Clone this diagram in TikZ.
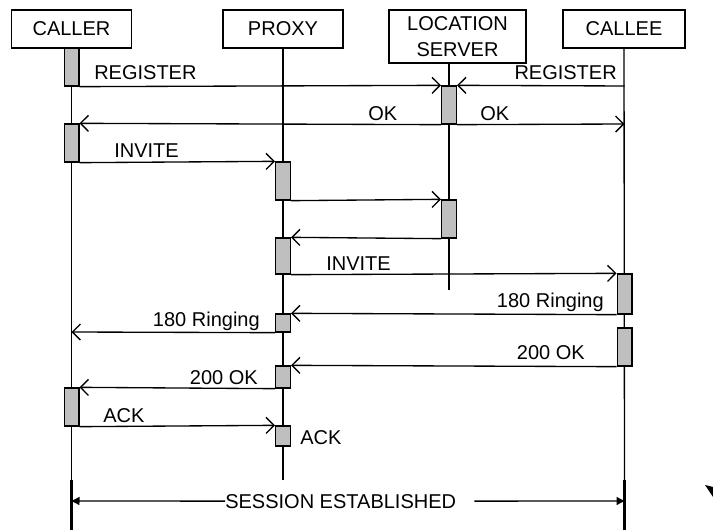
\documentclass[tikz,border=0pt]{standalone}
\usepackage{fontspec}
\setmainfont{Liberation Sans}
\usetikzlibrary{arrows.meta,positioning}
\tikzstyle{actor}=[rectangle, draw=black, line width=1pt, minimum width=90pt,
  minimum height=28.5pt, inner sep=0pt, align=center]
\tikzstyle{act}=[rectangle, draw=black, fill=black!25, line width=1pt,
  minimum width=11pt, inner sep=0pt]
\tikzstyle{msg}=[-{Straight Barb[length=6pt,width=12pt]}, line width=1pt]
\tikzstyle{arrow}=[-{Triangle[length=6pt,width=6pt]}, line width=1pt]
\tikzstyle{life}=[line width=1pt]
\tikzstyle{lbl}=[inner sep=0pt]

\begin{document}
\begin{tikzpicture}[x=0.75pt,y=-0.75pt,font=\fontsize{15}{19.5}\selectfont]
\useasboundingbox (0,0) rectangle (713,530);
\node[actor] (caller) at (71.5,29) {CALLER};
\node[actor] (proxy) at (283,29) {PROXY};
\node[actor,minimum width=102.75pt,minimum height=39.75pt] (loc) at (457.5,36.5) {LOCATION\\SERVER};
\node[actor,minimum width=91.5pt] (callee) at (624,29) {CALLEE};
\coordinate (callermid) at (71.5,480);
\coordinate (callerend) at (71.5,530);
\coordinate (proxyend) at (283,480);
\coordinate (locend) at (449,290);
\coordinate (calleemid) at (624.5,480);
\coordinate (calleeend) at (624.5,530);
\draw[life] (caller.south) -- (callermid);
\draw[line width=1.8pt] (callermid) -- (callerend);
\draw[life] (proxy.south) -- (proxyend);
\draw[life] (loc.south -| locend) -- (locend);
\draw[life] (callee.south) -- (calleemid);
\draw[line width=1.8pt] (calleemid) -- (calleeend);
\node[act,minimum height=28.5pt] (c1) at (71.5,67) {};
\node[act,minimum height=28.5pt] (c2) at (71.5,143) {};
\node[act,minimum height=28.5pt] (c3) at (71.5,407) {};
\node[act,minimum height=28.5pt] (p1) at (283,181) {};
\node[act,minimum height=27pt] (p2) at (283,256) {};
\node[act,minimum height=13.5pt] (p3) at (283,323) {};
\node[act,minimum height=16.5pt] (p4) at (283,377) {};
\node[act,minimum height=15pt] (p5) at (283,436) {};
\node[act,minimum height=28.5pt] (l1) at (449,105) {};
\node[act,minimum height=28.5pt] (l2) at (449,219) {};
\node[act,minimum height=30pt] (e1) at (624.5,294) {};
\node[act,minimum height=28.5pt] (e2) at (624.5,347) {};
\coordinate (ereg) at (624.5,86);
\coordinate (eok) at (624.5,124);
\coordinate (cring) at (71.5,332);
\draw[msg] (c1.south east) -- (l1.north west);
\draw[msg] (ereg) -- (l1.north east);
\draw[msg] (l1.south west) -- (c2.north east);
\draw[msg] (l1.south east) -- (eok);
\draw[msg] (c2.south east) -- (p1.north west);
\draw[msg] (p1.south east) -- (l2.north west);
\draw[msg] (l2.south west) -- (p2.north east);
\draw[msg] (p2.south east) -- (e1.north west);
\draw[msg] (e1.south west) -- (p3.north east);
\draw[msg] (p3.south west) -- (cring);
\draw[msg] (e2.south west) -- (p4.north east);
\draw[msg] (p4.south west) -- (c3.north east);
\draw[msg] (c3.south east) -- (p5.north west);
\node[lbl,anchor=base west] (reg1) at (94,80) {REGISTER};
\node[lbl,anchor=base east] (reg2) at (617,80) {REGISTER};
\node[lbl,anchor=base west] (ok1) at (368,121) {OK};
\node[lbl,anchor=base west] (ok2) at (480,121) {OK};
\node[lbl,anchor=base west] (inv1) at (114,158) {INVITE};
\node[lbl,anchor=base west] (inv2) at (326,271) {INVITE};
\node[lbl,anchor=base east] (ring1) at (604,308) {180 Ringing};
\node[lbl,anchor=base east] (ring2) at (260,327) {180 Ringing};
\node[lbl,anchor=base east] (okk1) at (585,360) {200 OK};
\node[lbl,anchor=base east] (okk2) at (258,384) {200 OK};
\node[lbl,anchor=base west] (ack1) at (103,422) {ACK};
\node[lbl,anchor=base west] (ack2) at (300,444) {ACK};
\node[lbl,anchor=base west] (sess) at (225,508) {SESSION ESTABLISHED};
\coordinate (sleft) at (71.5,501);
\coordinate (sright) at (624.5,501);
\draw[arrow] (sess.west) -- (sleft);
\draw[arrow] ([xshift=13.5pt]sess.east) -- (sright);
\fill (705,485) -- (713,487) -- (713,497) -- cycle;
\end{tikzpicture}
\end{document}
